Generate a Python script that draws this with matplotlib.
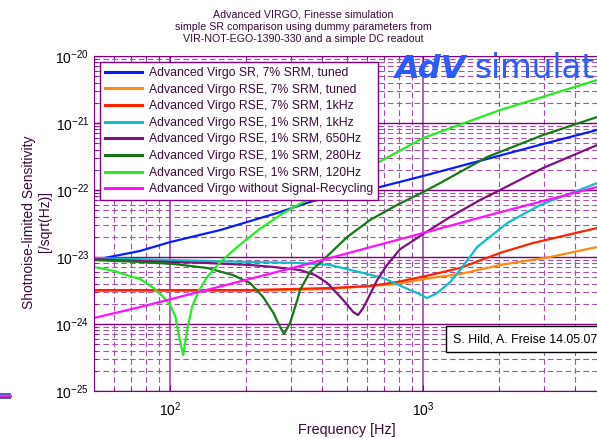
import numpy as np
import matplotlib
matplotlib.use('Agg')
import matplotlib.pyplot as plt
from matplotlib.lines import Line2D
from matplotlib.ticker import FixedLocator, NullFormatter, LogFormatterSciNotation

plt.rcParams['font.family'] = ['Liberation Sans', 'DejaVu Sans']

# values (frequency in Hz, sensitivity in 1/sqrt(Hz))
f_sr7_tuned = [50, 76, 100, 158, 265, 367, 676, 1000, 1791, 2980, 4875]
s_sr7_tuned = [9.0e-24, 1.23e-23, 1.67e-23, 2.53e-23, 4.54e-23, 6.86e-23,
               1.11e-22, 1.62e-22, 2.91e-22, 4.86e-22, 7.87e-22]

f_rse7_tuned = [50, 207, 429, 788, 1066, 1400, 2014, 3177, 4875]
s_rse7_tuned = [3.11e-24, 3.11e-24, 3.33e-24, 3.95e-24, 4.86e-24, 5.57e-24,
                7.6e-24, 1.0e-23, 1.41e-23]

f_rse7_1k = [50, 207, 429, 617, 788, 1066, 1400, 2014, 2722, 4875]
s_rse7_1k = [3.21e-24, 3.21e-24, 3.44e-24, 3.69e-24, 4.23e-24, 5.38e-24,
             6.86e-24, 1.15e-23, 1.62e-23, 2.71e-23]

f_rse1_1k = [50, 100, 207, 326, 429, 579, 695, 834, 946, 1037, 1136, 1279,
             1400, 1635, 2148, 2899, 4875]
s_rse1_1k = [9.66e-24, 9.02e-24, 8.42e-24, 8.13e-24, 7.6e-24, 5.77e-24,
             4.86e-24, 3.56e-24, 2.9e-24, 2.44e-24, 2.9e-24, 4.23e-24,
             6.4e-24, 1.41e-23, 3.21e-23, 5.97e-23, 1.27e-22]

f_rse1_650 = [50, 76, 140, 207, 256, 326, 374, 418, 483, 529, 553, 579, 601,
              658, 720, 811, 1000, 1279, 1680, 2014, 2980, 4875]
s_rse1_650 = [9.33e-24, 8.71e-24, 8.13e-24, 7.6e-24, 7.1e-24, 6.4e-24,
              5.38e-24, 4.09e-24, 2.28e-24, 1.51e-24, 1.36e-24, 1.73e-24,
              2.28e-24, 4.54e-24, 7.6e-24, 1.31e-23, 2.2e-23, 3.96e-23,
              7.1e-23, 1.0e-22, 2.13e-22, 4.7e-22]

f_rse1_280 = [50, 76, 103, 140, 177, 207, 233, 256, 272, 282, 298, 318, 326,
              357, 410, 501, 617, 788, 1000, 1167, 1791, 2980, 4875]
s_rse1_280 = [9.0e-24, 8.42e-24, 7.87e-24, 6.86e-24, 5.38e-24, 4.09e-24,
              2.53e-24, 1.46e-24, 9.02e-25, 7.09e-25, 1.04e-24, 2.28e-24,
              3.21e-24, 5.97e-24, 9.66e-24, 1.99e-23, 3.57e-23, 5.97e-23,
              9.33e-23, 1.27e-22, 3.11e-22, 6.62e-22, 1.23e-21]

f_rse1_120 = [50, 60, 71, 76, 86, 94, 100, 105, 108.5, 112.6, 116.7, 122,
              129, 140, 158, 184, 223, 280, 348, 658, 1000, 2014, 4875]
s_rse1_120 = [7.1e-24, 6.18e-24, 5.03e-24, 4.7e-24, 3.44e-24, 2.53e-24,
              1.92e-24, 1.27e-24, 6.39e-25, 3.44e-25, 8.13e-25, 1.79e-24,
              3.0e-24, 5.03e-24, 8.42e-24, 1.41e-23, 2.53e-23, 4.54e-23,
              7.1e-23, 2.53e-22, 5.97e-22, 1.56e-21, 4.38e-21]

f_no_sr = [50, 76, 326, 1000, 1961, 4875]
s_no_sr = [1.23e-24, 1.79e-24, 7.34e-24, 2.28e-23, 4.54e-23, 1.11e-22]

curves = [
    (f_sr7_tuned, s_sr7_tuned, '#0a1cff', 'Advanced Virgo SR, 7% SRM, tuned'),
    (f_rse7_tuned, s_rse7_tuned, '#ff8a10', 'Advanced Virgo RSE, 7% SRM, tuned'),
    (f_rse7_1k, s_rse7_1k, '#ff2200', 'Advanced Virgo RSE, 7% SRM, 1kHz'),
    (f_rse1_1k, s_rse1_1k, '#10c0c8', 'Advanced Virgo RSE, 1% SRM, 1kHz'),
    (f_rse1_650, s_rse1_650, '#80107f', 'Advanced Virgo RSE, 1% SRM, 650Hz'),
    (f_rse1_280, s_rse1_280, '#137a13', 'Advanced Virgo RSE, 1% SRM, 280Hz'),
    (f_rse1_120, s_rse1_120, '#22ee22', 'Advanced Virgo RSE, 1% SRM, 120Hz'),
    (f_no_sr, s_no_sr, '#ff10ff', 'Advanced Virgo without Signal-Recycling'),
]

x_major = [100, 1000]
y_major = [1e-25, 1e-24, 1e-23, 1e-22, 1e-21, 1e-20]

purple = '#800080'
textcol = '#3a0a3a'

fig = plt.figure(figsize=(5.97, 4.38), dpi=100)
ax = fig.add_axes([94 / 597, 1 - 391 / 438, 506 / 597, 335 / 438])

for f, s, c, lab in curves:
    ax.loglog(f, s, color=c, lw=1.6, label=lab)

ax.set_xlim(50, 5000)
ax.set_ylim(1e-25, 1e-20)
ax.xaxis.set_major_locator(FixedLocator(x_major))
ax.yaxis.set_major_locator(FixedLocator(y_major))
ax.xaxis.set_major_formatter(LogFormatterSciNotation())
ax.yaxis.set_major_formatter(LogFormatterSciNotation())
ax.xaxis.set_minor_formatter(NullFormatter())
ax.yaxis.set_minor_formatter(NullFormatter())

ax.grid(True, which='major', axis='y', color=purple, lw=1.0, ls='-')
ax.grid(True, which='major', axis='x', color='#b060b8', lw=1.4, ls='-')
ax.grid(True, which='minor', color='#a452a8', lw=0.8, ls=(0, (5, 3)))
ax.set_axisbelow(True)

for sp in ax.spines.values():
    sp.set_color(purple)
ax.tick_params(which='both', direction='in', color=purple, top=True, right=True,
               labelcolor='black', labelsize=10)
ax.tick_params(which='major', length=4)
ax.tick_params(which='minor', length=2)
ax.tick_params(axis='x', which='major', pad=7)

ax.set_xlabel('Frequency [Hz]', fontsize=10.4, color=textcol, labelpad=3)

fig.text(37 / 597, 1 - 222 / 438, 'Shotnoise-limited Sensitivity\n[/sqrt(Hz)]',
         rotation=90, ha='center', va='center', multialignment='center',
         fontsize=10, color=textcol, linespacing=1.15)

fig.text(303 / 597, 1 - 27 / 438,
         'Advanced VIRGO, Finesse simulation\n'
         'simple SR comparison using dummy parameters from\n'
         'VIR-NOT-EGO-1390-330 and a simple DC readout',
         ha='center', va='center', fontsize=7.7, color=textcol, linespacing=1.3)

leg = ax.legend(loc='upper left', bbox_to_anchor=(0.0119, 0.982),
                borderaxespad=0, fontsize=8.8, handlelength=3.0,
                labelspacing=0.38, fancybox=False, framealpha=1,
                edgecolor=purple, borderpad=0.4, handletextpad=0.6)
for t in leg.get_texts():
    t.set_color(textcol)
for h in leg.get_lines():
    h.set_linewidth(2.2)

fig.text(394 / 597, 1 - 78 / 438, 'AdV', fontsize=23, fontstyle='italic',
         fontweight='bold', color='#2a5cff', family='DejaVu Sans',
         va='baseline')
fig.text(474 / 597, 1 - 78 / 438, 'simulat', fontsize=23.5, color='#2a5cff',
         family='DejaVu Sans', va='baseline')

fig.text(453 / 597, 1 - 339 / 438, 'S. Hild, A. Freise 14.05.07', fontsize=8.9,
         va='center', ha='left', color='black',
         bbox=dict(boxstyle='square,pad=0.55', fc='white', ec='black', lw=1))

# little stray legend swatch at the left edge of the original picture
for yy, cc, lw in [(394, '#3a3ad0', 1.2), (396, '#e020c0', 2.0), (398, '#3a3ad0', 1.2)]:
    fig.add_artist(Line2D([0, 10 / 597], [1 - yy / 438] * 2, color=cc, lw=lw))

fig.savefig('out.png', dpi=100)
